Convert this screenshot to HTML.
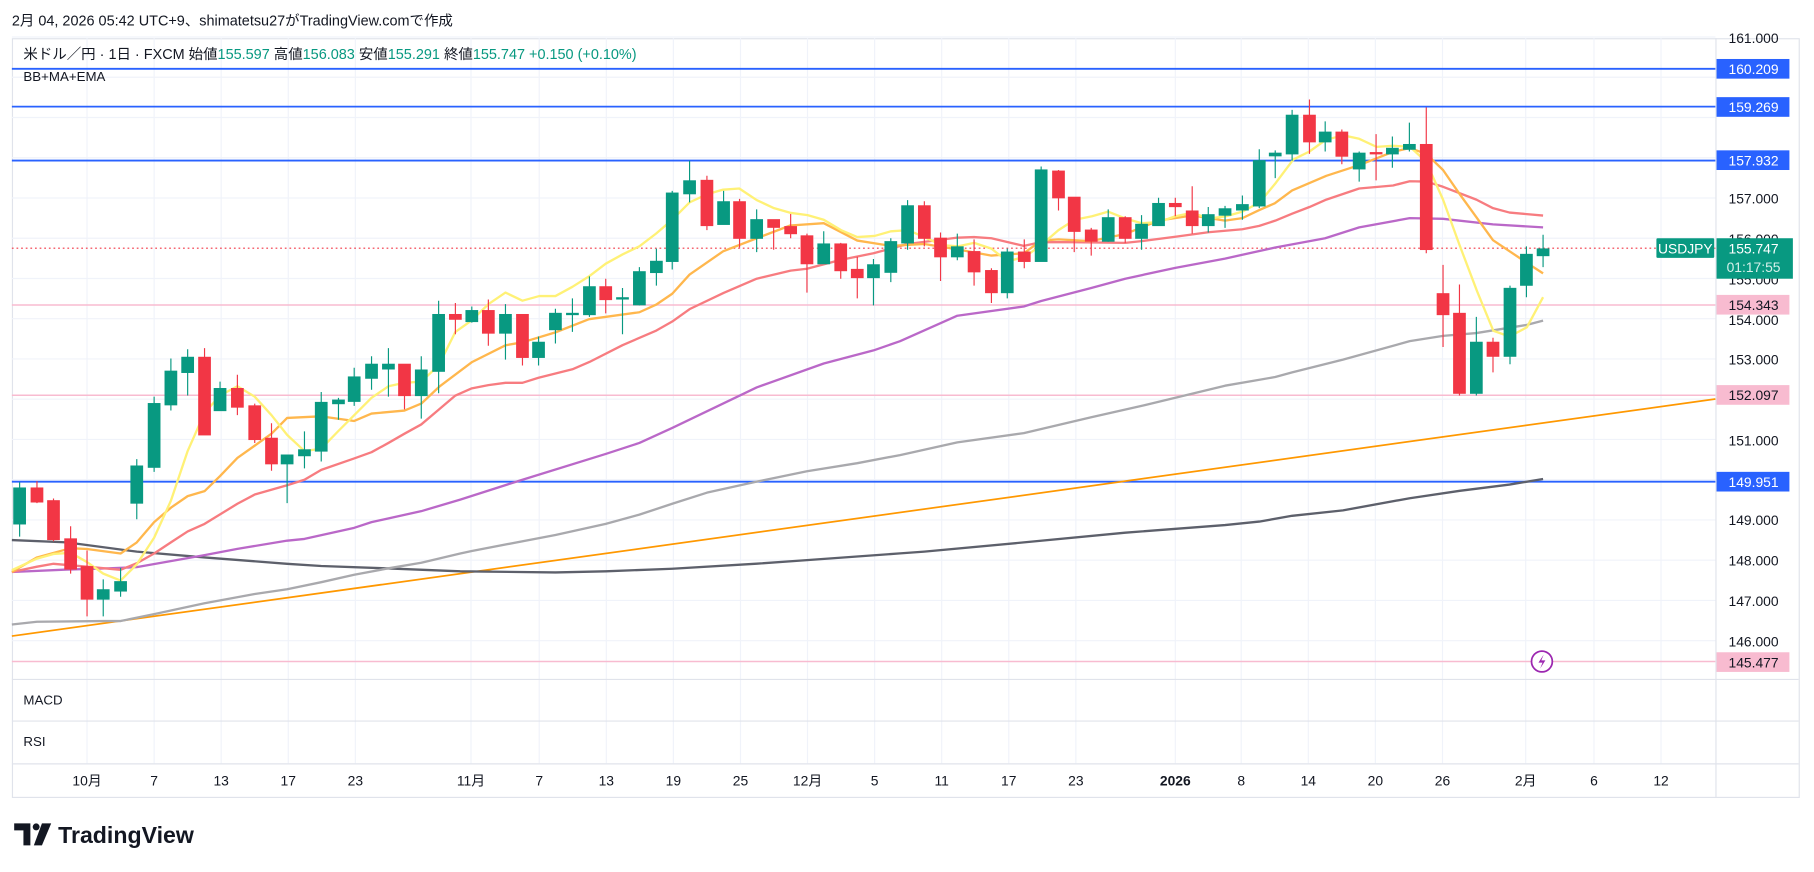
<!DOCTYPE html>
<html><head><meta charset="utf-8"><style>
html,body{margin:0;padding:0;background:#fff;width:1814px;height:872px;overflow:hidden}
svg{display:block}
text{font-family:"Liberation Sans","Noto Sans CJK JP",sans-serif}
</style></head><body>
<svg width="1814" height="872" viewBox="0 0 1568 754" xmlns="http://www.w3.org/2000/svg">
<rect x="0" y="0" width="1568" height="754" fill="#fff"/>
<text x="10" y="22" font-size="12.5" fill="#131722">2月 04, 2026 05:42 UTC+9、shimatetsu27がTradingView.comで作成</text>
<!-- frame -->
<rect x="10.5" y="33.5" width="1545" height="656" fill="#fff" stroke="#e0e3eb"/>
<!-- grid -->
<g stroke="#f0f3fa" stroke-width="1">
<path d="M10 32H1483M10 66.8H1483M10 101.6H1483M10 136.4H1483M10 171.2H1483M10 206H1483M10 240.8H1483M10 275.6H1483M10 310.4H1483M10 345.2H1483M10 380H1483M10 414.8H1483M10 449.6H1483M10 484.4H1483M10 519.2H1483M10 554H1483"/>
<path d="M75 33V660M133 33V660M191 33V660M249 33V660M307 33V660M407 33V660M466 33V660M524 33V660M582 33V660M640 33V660M698 33V660M756 33V660M814 33V660M872 33V660M930 33V660M1016 33V660M1073 33V660M1131 33V660M1189 33V660M1247 33V660M1319 33V660M1378 33V660M1436 33V660"/>
</g>
<g stroke="#e0e3eb"><path d="M10 587.5H1555M10 623.5H1555M10 660.5H1555M1483.5 33V690"/></g>
<!-- horizontal levels -->
<g stroke="#2962ff" stroke-width="1.6"><path d="M10 59.5H1483M10 92.2H1483M10 138.8H1483M10 416.5H1483"/></g>
<g stroke="#f8bbd0" stroke-width="1.3"><path d="M10 263.7H1483M10 341.8H1483M10 572H1483"/></g>
<path d="M10 214.6H1483" stroke="#f23645" stroke-width="1" stroke-dasharray="1.5 2.5"/>
<!-- trendline -->
<path d="M10 550L1483 345" stroke="#ff9800" stroke-width="1.5" fill="none"/>
<!-- MAs -->
<g fill="none" stroke-width="2" stroke-linejoin="round">
<polyline stroke="#5d606b" points="10,467 57.6,469 118,477 176.6,482 248,487.5 277.5,489.4 335.6,491.5 397.7,494 480,495 523.5,494 581,491.8 654,487.4 697.5,484.3 778,478.5 799,477 885,469 972.7,460.6 1059,454 1088.6,451 1117,446 1161,441.3 1218.7,430.8 1262,424.4 1305,419 1334,414.2"/>
<polyline stroke="#a9a9ad" points="10,540 31.7,537.6 89,537 104,537 133,531 176.6,521.6 220,513.6 248,509.5 277.5,503.4 306,497 335.6,491.4 364,486.6 397.7,478.6 407.7,476.4 480,462.6 523.5,453 552.6,445 581,435.6 611,426 654,416.5 697.5,407.5 741,400.5 778,393.5 827.5,382.5 885,374.5 943.3,360.8 986.8,351 1059,333.5 1102.4,326 1117,322 1161,311 1218.7,295 1247.5,290.4 1276.3,288 1319.6,281 1334,277.2"/>
<polyline stroke="#ba68c8" points="10,494.6 57.6,492.5 86.5,491.7 118,490.4 176.6,480 205,474.6 248,467.5 263,466 306,456.4 321,451.5 364,442 397.7,432 451.5,414.8 523.5,392.5 552.6,383 581,370 654,335 712,314.3 755,303 778,295 827.5,273 885,265 900,260.3 943.3,249 972.7,241 1016,231.6 1059,223.6 1102.4,214 1145.6,206 1175,196.6 1218.7,188.6 1247.5,189.2 1290.7,194 1334,196.6"/>
<polyline stroke="#f77c80" points="10,494.6 31.7,490 46,487.5 75,490 104,492.7 118,487 133,478.6 147.5,469 162,459.5 176.6,453 205,435.6 220,427.6 248,419.6 263,414.8 277.5,406.3 306,396.4 321,391 335.6,383 349.5,375 364,367 379,354.3 393.5,342 407.7,335.8 422,333 436.8,331 451.5,331 465.4,326.6 494.7,319.3 509.4,313 538,298.5 567.3,285.8 581,278 596,267.3 625.4,253.3 654,241 683.4,234 697.5,232.4 726.7,224.7 755,219 784.5,211 827.5,205.5 842,205 857,206 885,212.6 900,209.4 928.6,209.4 972.7,210 986.8,208.5 1016,204.7 1044.5,200.8 1074,198.2 1088.6,195.3 1102.4,190.8 1117,184.8 1132,179 1146.6,172.6 1175,163 1204.3,160.4 1218.7,156.7 1233,157 1247.5,161.5 1276.3,172.6 1290.7,180 1305,183.8 1334,186.4"/>
<polyline stroke="#ffb74d" points="10,494.6 31.7,482 60.8,474 75,474.7 104,478.6 118,469 133,451.5 147.5,439 162,429 176.6,424.7 190,411.6 205,396 234.5,375 248,361.4 277.5,360 306,364 321,357.6 349.5,355 364,349 380,334 408,313 437,298.5 451.5,296 480,287.4 509,276 552.6,270 567,263.5 581,254 596,237.4 625,217.3 654,206 683,195 712,193 741,208 770,212.6 799,211 827.5,215.6 857,221 885,219 900,208 915,207 943,208.5 972.7,202.3 1001.5,190.8 1030.6,186.3 1059,190.8 1074,188.6 1088.6,181.6 1102,175.8 1117,164.7 1146.6,152 1175.5,142.6 1204.3,131.3 1218.7,128 1233,133 1247.5,147 1262,168 1290.7,207.7 1319.6,227 1334,236.4"/>
<polyline stroke="#fff176" points="10,493 31.7,483 46,479 60.8,478 75,486 89,496 104,502 118,488 133,465 147.5,433 162,390 176.6,357 190,342 205,334 220,343 234.5,359 248,376 263,390 277.5,388 292,373 306,359 321,344 335.6,334 349.5,331 364,330 379,316 393.5,287 407.7,277 422,263 436.8,253 451.5,260 466,256 480,256 494.7,248 509,239 523.5,228 538,220 552.6,213 567,202 581,190 596,175 611,168 625,164 639,163 654,173 669,180 683,184 698,186 712,190 727,199 741,205 756,204 770,200 785,199 799,205 814,212 828,213 842,210 857,215 871,226 886,222 900,212 915,199 929,190 944,187 958,183 973,189 987,193 1002,192 1016,187 1031,184 1045,189 1060,187 1074,183 1089,175 1103,158 1118,138 1132,131 1146,121 1161,117 1175,120 1190,127 1204,126 1219,127 1233,140 1247.5,172.6 1262,212.5 1277,252 1291,286 1305,291 1320,283 1334,257"/>
</g>
<!-- candles -->
<g id="c" stroke-width="1">
<g fill="#089981" stroke="#089981">
<path d="M16.7 417V464M89 501V533M104 491V516M118 397V449M133 343V408M147.5 310V355M162 302V342M190 330V355M248 393V435M263 373V405M277.5 339V399M292.4 344V363M306 318V351M321 308V337M335.6 301V343M364 308V362M379 260V340M407.7 265V279M436.8 263V311M465.4 291V316M480 267V297M494.7 258V287M509.4 239V274M538 249V289M552.6 231V264M567.3 215V247M581 165V233M596 139V175M625.4 165V194M654 181V218M712 200V228M755 224V264M770 206V244M784.5 173V216M827.5 202V225M870.7 215V258M900 144V226M958 181V209M986.8 186V216M1001.5 171V195M1044.5 179V201M1059 178V197M1074 169V190M1088.6 129V180M1102.4 130V154M1117 95V139M1145.6 105V131M1175 131V157M1203.7 118V145M1218.4 106V131M1276.3 274V342M1305.4 247V315M1319.6 213V257M1334 203V231"/>
<rect x="11.7" y="422" width="10" height="31"/><rect x="84" y="510" width="10" height="8"/><rect x="99" y="503" width="10" height="8"/><rect x="113" y="403" width="10" height="32"/><rect x="128" y="349" width="10" height="55"/><rect x="142.5" y="321" width="10" height="29"/><rect x="157" y="309" width="10" height="13"/><rect x="185" y="336" width="10" height="19"/><rect x="243" y="393.5" width="10" height="7.5"/><rect x="258" y="389" width="10" height="5"/><rect x="272.5" y="348" width="10" height="42"/><rect x="287.4" y="346" width="10" height="3"/><rect x="301" y="326" width="10" height="21"/><rect x="316" y="315" width="10" height="12"/><rect x="330.6" y="315" width="10" height="4"/><rect x="359" y="320" width="10" height="22"/><rect x="374" y="272" width="10" height="49"/><rect x="402.7" y="268.6" width="10" height="9.4"/><rect x="431.8" y="272" width="10" height="16"/><rect x="460.4" y="296" width="10" height="13"/><rect x="475" y="271" width="10" height="14"/><rect x="489.7" y="271" width="10" height="1"/><rect x="504.4" y="248" width="10" height="24"/><rect x="533" y="257.5" width="10" height="1"/><rect x="547.6" y="235" width="10" height="28.5"/><rect x="562.3" y="226" width="10" height="9.6"/><rect x="576" y="167" width="10" height="59"/><rect x="591" y="156.4" width="10" height="11.1"/><rect x="620.4" y="174.5" width="10" height="19.5"/><rect x="649" y="190" width="10" height="16"/><rect x="707" y="211" width="10" height="17"/><rect x="750" y="229" width="10" height="11"/><rect x="765" y="209" width="10" height="26.4"/><rect x="779.5" y="178" width="10" height="32"/><rect x="822.5" y="213.5" width="10" height="8.5"/><rect x="865.7" y="218" width="10" height="35"/><rect x="895" y="147" width="10" height="79"/><rect x="953" y="188.3" width="10" height="20.2"/><rect x="981.8" y="194" width="10" height="12"/><rect x="996.5" y="176" width="10" height="19"/><rect x="1039.5" y="185.7" width="10" height="9.3"/><rect x="1054" y="180.6" width="10" height="5.4"/><rect x="1069" y="177" width="10" height="4.5"/><rect x="1083.6" y="139" width="10" height="39"/><rect x="1097.4" y="132.5" width="10" height="2.2"/><rect x="1112" y="99.7" width="10" height="33.3"/><rect x="1140.6" y="114.3" width="10" height="8.3"/><rect x="1170" y="132.5" width="10" height="13.5"/><rect x="1198.7" y="128.3" width="10" height="4.7"/><rect x="1213.4" y="125" width="10" height="4"/><rect x="1271.3" y="296" width="10" height="44"/><rect x="1300.4" y="249.4" width="10" height="58.6"/><rect x="1314.6" y="220" width="10" height="26.6"/><rect x="1329" y="215.3" width="10" height="5.7"/>
</g>
<g fill="#f23645" stroke="#f23645">
<path d="M31.7 416V435M46 431V468M60.8 455V496M75 476V533M176.6 301V376M205 324V359M220 349V383M234.5 366V407M349.5 315V354M393.5 262V289M422 259V299M451.5 272V316M523.5 241V271M611 152V199M639.2 172V214M668.7 190V216M683.4 185V206M697.5 202V253M726.7 210V241M741 222V258M799 174V213M813 201V243M842 207V247M857 232V262M885.4 207V232M915 147V182M928.6 171V218M943.3 197V221M972.7 187V210M1016 171V187M1030.6 161V202M1132 86V133M1160 112V142M1189.6 116V156M1233 93V219M1247.5 229V300M1261.7 246V342M1290.7 292V322"/>
<rect x="26.7" y="422" width="10" height="12"/><rect x="41" y="433" width="10" height="33.5"/><rect x="55.8" y="466" width="10" height="26"/><rect x="70" y="490" width="10" height="28"/><rect x="171.6" y="309" width="10" height="67"/><rect x="200" y="336" width="10" height="16"/><rect x="215" y="351" width="10" height="29"/><rect x="229.5" y="379" width="10" height="22"/><rect x="344.5" y="315" width="10" height="27"/><rect x="388.5" y="272" width="10" height="4"/><rect x="417" y="268.6" width="10" height="19.4"/><rect x="446.5" y="272" width="10" height="37"/><rect x="518.5" y="248" width="10" height="11"/><rect x="606" y="156" width="10" height="39"/><rect x="634.2" y="174.5" width="10" height="31.5"/><rect x="663.7" y="190" width="10" height="6.5"/><rect x="678.4" y="196" width="10" height="6"/><rect x="692.5" y="204" width="10" height="24"/><rect x="721.7" y="211" width="10" height="23"/><rect x="736" y="233" width="10" height="7"/><rect x="794" y="178" width="10" height="28"/><rect x="808" y="206" width="10" height="16"/><rect x="837" y="217.6" width="10" height="17.4"/><rect x="852" y="234" width="10" height="19"/><rect x="880.4" y="218" width="10" height="8"/><rect x="910" y="148" width="10" height="23"/><rect x="923.6" y="170.6" width="10" height="29.4"/><rect x="938.3" y="199" width="10" height="9.5"/><rect x="967.7" y="188.3" width="10" height="17.7"/><rect x="1011" y="176" width="10" height="2.6"/><rect x="1025.6" y="182.5" width="10" height="12.5"/><rect x="1127" y="99.7" width="10" height="22.9"/><rect x="1155" y="114.3" width="10" height="20.7"/><rect x="1184.6" y="132" width="10" height="1"/><rect x="1228" y="125" width="10" height="90.7"/><rect x="1242.5" y="254" width="10" height="18"/><rect x="1256.7" y="271" width="10" height="69"/><rect x="1285.7" y="296" width="10" height="12"/>
</g>
</g>
<!-- lightning icon -->
<circle cx="1333" cy="572" r="9" fill="#fff" stroke="#9c27b0" stroke-width="1.5"/>
<path d="M1334.5 566L1330 573H1333.5L1331.5 578L1336 571H1332.5Z" fill="#9c27b0"/>
<!-- legend -->
<text x="20" y="51" font-size="12.5" fill="#131722">米ドル／円 · 1日 · FXCM  始値<tspan fill="#089981">155.597</tspan>  高値<tspan fill="#089981">156.083</tspan>  安値<tspan fill="#089981">155.291</tspan>  終値<tspan fill="#089981">155.747  +0.150 (+0.10%)</tspan></text>
<text x="20" y="70" font-size="11.5" fill="#131722">BB+MA+EMA</text>
<text x="20" y="609" font-size="11.5" fill="#131722">MACD</text>
<text x="20" y="645" font-size="11.5" fill="#131722">RSI</text>
<!-- price axis -->
<g font-size="12" fill="#131722" text-anchor="middle">
<text x="1516" y="37">161.000</text><text x="1516" y="176">157.000</text><text x="1516" y="211">156.000</text><text x="1516" y="246">155.000</text><text x="1516" y="281">154.000</text><text x="1516" y="315">153.000</text><text x="1516" y="385">151.000</text><text x="1516" y="454">149.000</text><text x="1516" y="489">148.000</text><text x="1516" y="524">147.000</text><text x="1516" y="559">146.000</text>
</g>
<g font-size="12" text-anchor="middle">
<rect x="1484" y="51" width="63" height="17" fill="#2962ff"/><text x="1516" y="64" fill="#fff">160.209</text>
<rect x="1484" y="84" width="63" height="17" fill="#2962ff"/><text x="1516" y="97" fill="#fff">159.269</text>
<rect x="1484" y="130" width="63" height="17" fill="#2962ff"/><text x="1516" y="143" fill="#fff">157.932</text>
<rect x="1484" y="408" width="63" height="17" fill="#2962ff"/><text x="1516" y="421" fill="#fff">149.951</text>
<rect x="1484" y="255" width="63" height="17" fill="#f8bbd0"/><text x="1516" y="268" fill="#131722">154.343</text>
<rect x="1484" y="333" width="63" height="17" fill="#f8bbd0"/><text x="1516" y="346" fill="#131722">152.097</text>
<rect x="1484" y="564" width="63" height="17" fill="#f8bbd0"/><text x="1516" y="577" fill="#131722">145.477</text>
<rect x="1484" y="206" width="66" height="35" fill="#089981"/><text x="1516" y="219" fill="#fff">155.747</text><text x="1516" y="235" fill="#d6f0ea">01:17:55</text>
<rect x="1432" y="206" width="50" height="17" rx="1" fill="#089981"/><text x="1457" y="219" fill="#fff">USDJPY</text>
</g>
<!-- time axis -->
<g font-size="12" fill="#131722" text-anchor="middle">
<text x="75" y="679">10月</text><text x="133" y="679">7</text><text x="191" y="679">13</text><text x="249" y="679">17</text><text x="307" y="679">23</text><text x="407" y="679">11月</text><text x="466" y="679">7</text><text x="524" y="679">13</text><text x="582" y="679">19</text><text x="640" y="679">25</text><text x="698" y="679">12月</text><text x="756" y="679">5</text><text x="814" y="679">11</text><text x="872" y="679">17</text><text x="930" y="679">23</text><text x="1016" y="679" font-weight="bold">2026</text><text x="1073" y="679">8</text><text x="1131" y="679">14</text><text x="1189" y="679">20</text><text x="1247" y="679">26</text><text x="1319" y="679">2月</text><text x="1378" y="679">6</text><text x="1436" y="679">12</text>
</g>
<!-- logo -->
<g fill="#131722">
<path d="M12 712H26V731H20V718H12Z"/>
<circle cx="31" cy="715" r="3"/>
<path d="M36 712H44L36 731H29Z"/>
<text x="50" y="729" font-size="20" font-weight="bold">TradingView</text>
</g>
</svg>
</body></html>
